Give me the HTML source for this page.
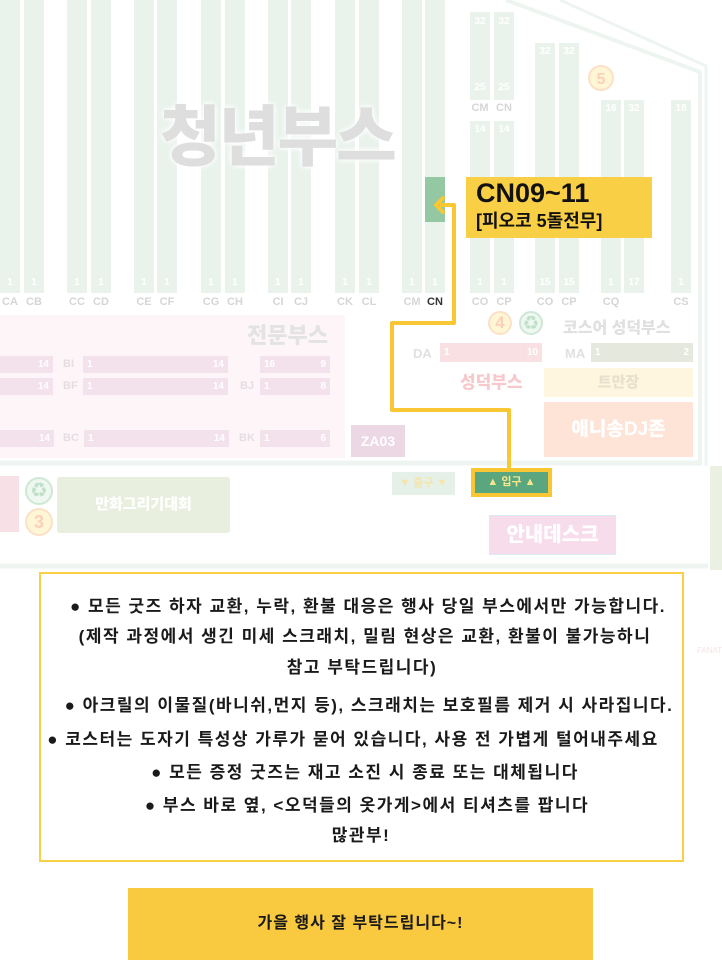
<!DOCTYPE html>
<html><head><meta charset="utf-8">
<style>
*{margin:0;padding:0;box-sizing:border-box}
body{width:722px;height:972px;background:#fff;position:relative;overflow:hidden;font-family:"Liberation Sans","Noto Sans CJK KR",sans-serif}
.a{position:absolute}
.col{position:absolute;background:#e9f3ec;width:20px}
.n{position:absolute;color:#fff;font-size:10px;font-weight:bold;width:20px;text-align:center}
.lb{position:absolute;color:#d6d6d6;font-size:11px;font-weight:bold;width:20px;text-align:center;top:296px}
.bar{position:absolute;background:#f3e1ec;height:17px;color:#fff;font-size:10px;font-weight:bold;line-height:17px}
.pl{position:absolute;color:#e6dde3;font-size:11px;font-weight:bold}
.t{position:absolute;width:700px;text-align:center;font-size:17px;letter-spacing:1.5px;font-weight:bold;color:#1a1a1a;white-space:nowrap;line-height:22px}
</style></head><body>

<div class="col" style="left:0;top:0;height:293px"></div>
<div class="col" style="left:24px;top:0;height:293px"></div>
<div class="col" style="left:67px;top:0;height:293px"></div>
<div class="col" style="left:91px;top:0;height:293px"></div>
<div class="col" style="left:134px;top:0;height:293px"></div>
<div class="col" style="left:157px;top:0;height:293px"></div>
<div class="col" style="left:201px;top:0;height:293px"></div>
<div class="col" style="left:225px;top:0;height:293px"></div>
<div class="col" style="left:268px;top:0;height:293px"></div>
<div class="col" style="left:291px;top:0;height:293px"></div>
<div class="col" style="left:335px;top:0;height:293px"></div>
<div class="col" style="left:359px;top:0;height:293px"></div>
<div class="col" style="left:402px;top:0;height:293px"></div>
<div class="col" style="left:425px;top:0;height:293px"></div>
<div class="a" style="left:425px;top:177px;width:20px;height:45px;background:#93c8a3"></div>
<div class="col" style="left:470px;top:12px;height:88px"></div>
<div class="col" style="left:494px;top:12px;height:88px"></div>
<div class="col" style="left:470px;top:121px;height:172px"></div>
<div class="col" style="left:494px;top:121px;height:172px"></div>
<div class="col" style="left:535px;top:43px;height:250px"></div>
<div class="col" style="left:559px;top:43px;height:250px"></div>
<div class="col" style="left:601px;top:100px;height:193px"></div>
<div class="col" style="left:624px;top:100px;height:193px"></div>
<div class="col" style="left:671px;top:100px;height:193px"></div>

<div class="n" style="left:0;top:277px">1</div><div class="n" style="left:24px;top:277px">1</div>
<div class="n" style="left:67px;top:277px">1</div><div class="n" style="left:91px;top:277px">1</div>
<div class="n" style="left:134px;top:277px">1</div><div class="n" style="left:157px;top:277px">1</div>
<div class="n" style="left:201px;top:277px">1</div><div class="n" style="left:225px;top:277px">1</div>
<div class="n" style="left:268px;top:277px">1</div><div class="n" style="left:291px;top:277px">1</div>
<div class="n" style="left:335px;top:277px">1</div><div class="n" style="left:359px;top:277px">1</div>
<div class="n" style="left:402px;top:277px">1</div><div class="n" style="left:425px;top:277px">1</div>
<div class="n" style="left:470px;top:277px">1</div><div class="n" style="left:494px;top:277px">1</div>
<div class="n" style="left:535px;top:277px">15</div><div class="n" style="left:559px;top:277px">15</div>
<div class="n" style="left:601px;top:277px">1</div><div class="n" style="left:624px;top:277px">17</div>
<div class="n" style="left:671px;top:277px">1</div>
<div class="n" style="left:470px;top:16px">32</div><div class="n" style="left:494px;top:16px">32</div>
<div class="n" style="left:470px;top:82px">25</div><div class="n" style="left:494px;top:82px">25</div>
<div class="n" style="left:470px;top:124px">14</div><div class="n" style="left:494px;top:124px">14</div>
<div class="n" style="left:535px;top:46px">32</div><div class="n" style="left:559px;top:46px">32</div>
<div class="n" style="left:601px;top:103px">16</div><div class="n" style="left:624px;top:103px">32</div>
<div class="n" style="left:671px;top:103px">18</div>
<div class="lb" style="left:470px;top:102px">CM</div><div class="lb" style="left:494px;top:102px">CN</div>

<div class="lb" style="left:0">CA</div><div class="lb" style="left:24px">CB</div>
<div class="lb" style="left:67px">CC</div><div class="lb" style="left:91px">CD</div>
<div class="lb" style="left:134px">CE</div><div class="lb" style="left:157px">CF</div>
<div class="lb" style="left:201px">CG</div><div class="lb" style="left:225px">CH</div>
<div class="lb" style="left:268px">CI</div><div class="lb" style="left:291px">CJ</div>
<div class="lb" style="left:335px">CK</div><div class="lb" style="left:359px">CL</div>
<div class="lb" style="left:402px">CM</div><div class="lb" style="left:425px;color:#333">CN</div>
<div class="lb" style="left:470px">CO</div><div class="lb" style="left:494px">CP</div>
<div class="lb" style="left:535px">CO</div><div class="lb" style="left:559px">CP</div>
<div class="lb" style="left:601px">CQ</div><div class="lb" style="left:671px">CS</div>

<svg class="a" style="left:0;top:0" width="722" height="972">
<polyline points="506,0 700,72 700,462" fill="none" stroke="#eef5f0" stroke-width="4"/>
<polyline points="560,0 706,66 706,466" fill="none" stroke="#eef5f0" stroke-width="3"/>
<circle cx="601" cy="78" r="12" fill="#fff6d6" stroke="#fbe1c6" stroke-width="2"/>
<text x="601" y="84" font-size="16" font-weight="bold" fill="#fbd0b6" text-anchor="middle" font-family="Liberation Sans">5</text>
<line x1="0" y1="463" x2="702" y2="463" stroke="#eef5f0" stroke-width="5"/>
<line x1="0" y1="566" x2="708" y2="566" stroke="#eef5f0" stroke-width="5"/>
</svg>

<div class="a" style="left:160px;top:84px;font-size:66px;font-weight:900;color:#dedede;letter-spacing:-2px;text-shadow:0 0 6px #fff,0 0 6px #fff">청년부스</div>

<div class="a" style="left:466px;top:177px;width:186px;height:61px;background:#f9cf45"></div>
<div class="a" style="left:476px;top:178px;font-size:27px;font-weight:bold;color:#111">CN09~11</div>
<div class="a" style="left:476px;top:207px;font-size:18px;font-weight:bold;color:#111">[피오코 5돌전무]</div>

<div class="a" style="left:0;top:315px;width:345px;height:143px;background:#fdf5f8"></div>
<div class="a" style="left:247px;top:318px;font-size:22px;font-weight:900;color:#e3e3e3">전문부스</div>
<div class="bar" style="left:0;top:356px;width:53px;text-align:right;padding-right:4px">14</div>
<div class="pl" style="left:63px;top:358px">BI</div>
<div class="bar" style="left:83px;top:356px;width:145px;padding:0 4px">1<span style="float:right">14</span></div>
<div class="bar" style="left:260px;top:356px;width:70px;padding:0 4px">16<span style="float:right">9</span></div>
<div class="bar" style="left:0;top:378px;width:53px;text-align:right;padding-right:4px">14</div>
<div class="pl" style="left:63px;top:380px">BF</div>
<div class="bar" style="left:83px;top:378px;width:145px;padding:0 4px">1<span style="float:right">14</span></div>
<div class="pl" style="left:240px;top:380px">BJ</div>
<div class="bar" style="left:260px;top:378px;width:70px;padding:0 4px">1<span style="float:right">8</span></div>
<div class="bar" style="left:0;top:430px;width:54px;text-align:right;padding-right:4px">14</div>
<div class="pl" style="left:63px;top:432px">BC</div>
<div class="bar" style="left:84px;top:430px;width:145px;padding:0 4px">1<span style="float:right">14</span></div>
<div class="pl" style="left:239px;top:432px">BK</div>
<div class="bar" style="left:260px;top:430px;width:70px;padding:0 4px">1<span style="float:right">6</span></div>
<div class="a" style="left:351px;top:425px;width:54px;height:32px;background:#ecd7e4;color:#fff;font-weight:bold;font-size:14px;text-align:center;line-height:32px">ZA03</div>

<div class="a" style="left:488px;top:311px;width:24px;height:24px;border-radius:50%;background:#fff6d6;border:2px solid #fbe1c6;color:#fbd0b6;font-weight:bold;font-size:17px;text-align:center;line-height:20px">4</div>
<div class="a" style="left:519px;top:311px;width:24px;height:24px;border-radius:50%;background:#eef7f0;border:2px solid #cfe8d6;color:#bfe0c8;font-size:14px;text-align:center;line-height:20px">♻</div>
<div class="a" style="left:563px;top:314px;font-size:16px;font-weight:900;color:#e0e0e0">코스어 성덕부스</div>
<div class="pl" style="left:413px;top:346px;font-size:13px;color:#e0e0e0">DA</div>
<div class="bar" style="left:440px;top:343px;width:102px;height:19px;background:#f9e1e3;padding:0 4px;line-height:19px">1<span style="float:right">10</span></div>
<div class="pl" style="left:565px;top:346px;font-size:13px;color:#e0e0e0">MA</div>
<div class="bar" style="left:591px;top:343px;width:102px;height:19px;background:#e4e8dd;padding:0 4px;line-height:19px">1<span style="float:right">2</span></div>
<div class="a" style="left:460px;top:368px;font-size:17px;font-weight:900;color:#f7c9cc">성덕부스</div>
<div class="a" style="left:544px;top:368px;width:149px;height:29px;background:#fef6df;color:#e8e0cc;font-weight:900;font-size:15px;text-align:center;line-height:29px">트만장</div>
<div class="a" style="left:544px;top:402px;width:149px;height:55px;background:#fde4d7;color:#fff;font-weight:900;font-size:19px;text-align:center;line-height:55px">애니송DJ존</div>

<div class="a" style="left:392px;top:472px;width:63px;height:23px;background:#e5f0e9;color:#f7e5a8;font-size:11px;font-weight:bold;text-align:center;line-height:23px">▼ 출구 ▼</div>
<div class="a" style="left:471px;top:468px;width:81px;height:29px;background:#5aa67e;border:4px solid #f9c733;color:#f9e58c;font-size:11px;font-weight:bold;text-align:center;line-height:21px">▲ 입구 ▲</div>

<div class="a" style="left:0;top:476px;width:19px;height:56px;background:#f8e1e6"></div>
<div class="a" style="left:25px;top:477px;width:28px;height:28px;border-radius:50%;background:#eef7f0;border:2px solid #cfe8d6;color:#bfe0c8;font-size:15px;text-align:center;line-height:24px">♻</div>
<div class="a" style="left:25px;top:508px;width:28px;height:28px;border-radius:50%;background:#fff6d6;border:2px solid #fbe1c6;color:#fbd0b6;font-size:18px;font-weight:bold;text-align:center;line-height:24px">3</div>
<div class="a" style="left:57px;top:477px;width:173px;height:56px;background:#e9efdf;color:#fff;font-weight:900;font-size:15px;text-align:center;line-height:56px;border-radius:3px">만화그리기대회</div>
<div class="a" style="left:489px;top:515px;width:127px;height:40px;background:#f7dceb;border:1px solid #d8ecf6;color:#fff;font-weight:900;font-size:20px;text-align:center;line-height:38px">안내데스크</div>
<div class="a" style="left:710px;top:466px;width:12px;height:104px;background:#eaf1e2"></div>
<div class="a" style="left:697px;top:646px;font-size:8px;color:#fbe3e6">FANAT</div>

<svg class="a" style="left:0;top:0" width="722" height="972">
<polyline points="440,205 454,205 454,323 392,323 392,410 509,410 509,468" fill="none" stroke="#f9c733" stroke-width="4" stroke-linejoin="round"/>
<polyline points="443,198 436,205 443,212" fill="none" stroke="#f9c733" stroke-width="4" stroke-linecap="round" stroke-linejoin="round"/>
</svg>

<div class="a" style="left:39px;top:572px;width:645px;height:290px;border:2px solid #f9cf45"></div>
<div class="t" style="left:18px;top:596px">● 모든 굿즈 하자 교환, 누락, 환불 대응은 행사 당일 부스에서만 가능합니다.</div>
<div class="t" style="left:15px;top:626px">(제작 과정에서 생긴 미세 스크래치, 밀림 현상은 교환, 환불이 불가능하니</div>
<div class="t" style="left:12px;top:657px">참고 부탁드립니다)</div>
<div class="t" style="left:19px;top:695px">● 아크릴의 이물질(바니쉬,먼지 등), 스크래치는 보호필름 제거 시 사라집니다.</div>
<div class="t" style="left:3px;top:729px">● 코스터는 도자기 특성상 가루가 묻어 있습니다, 사용 전 가볍게 털어내주세요</div>
<div class="t" style="left:15px;top:762px">● 모든 증정 굿즈는 재고 소진 시 종료 또는 대체됩니다</div>
<div class="t" style="left:17px;top:795px">● 부스 바로 옆, &lt;오덕들의 옷가게&gt;에서 티셔츠를 팝니다</div>
<div class="t" style="left:11px;top:825px">많관부!</div>

<div class="a" style="left:128px;top:888px;width:465px;height:72px;background:#f9c940;font-size:16px;letter-spacing:1px;font-weight:bold;color:#1a1a1a;text-align:center;line-height:72px">가을 행사 잘 부탁드립니다~!</div>
</body></html>
